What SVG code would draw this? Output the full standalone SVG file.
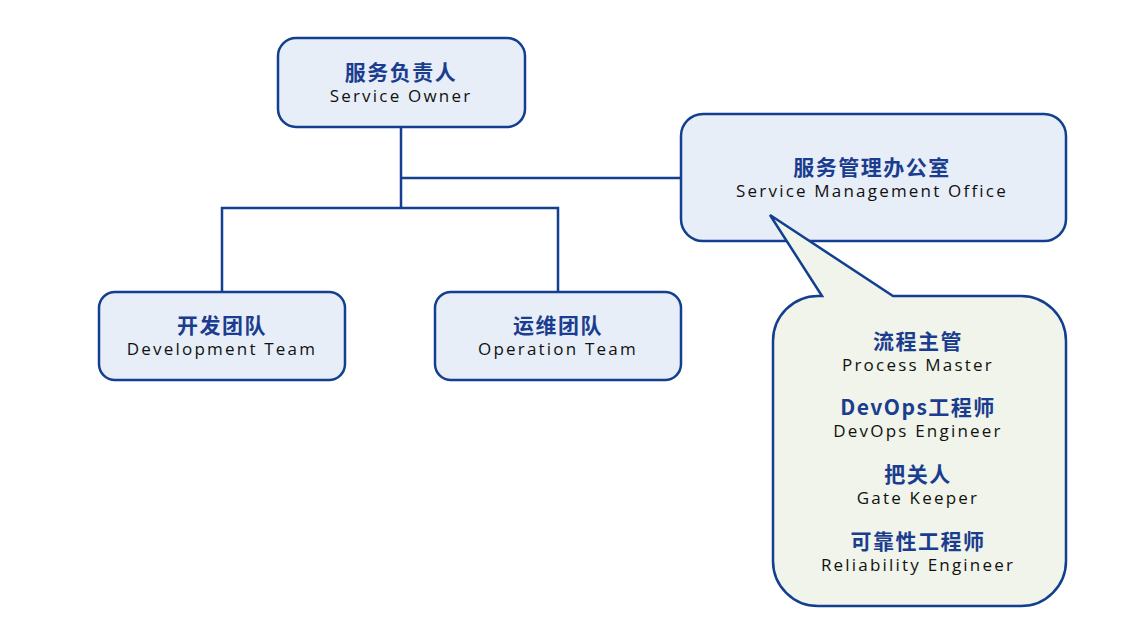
<svg xmlns="http://www.w3.org/2000/svg" width="1121" height="624" viewBox="0 0 1121 624">
<style>
.box{fill:#e8eef7;stroke:#123f8f;stroke-width:2.5}
.call{fill:#f0f4ea;stroke:#123f8f;stroke-width:2.5}
.zh{font-family:"Noto Sans CJK SC","Noto Sans",sans-serif;font-weight:bold;font-size:21px;fill:#1b3d8f;text-anchor:middle;letter-spacing:1.5px}
.en{font-family:"Open Sans","Noto Sans",sans-serif;font-size:17px;fill:#111;text-anchor:middle;letter-spacing:2.2px}
.ln{fill:none;stroke:#123f8f;stroke-width:2.5}
</style>
<rect width="1121" height="624" fill="#fff"/>
<g id="connectors">
<path class="ln" d="M401 127V208M401 178H681M222 292V208H558V292"/>
</g>
<g id="owner">
<rect class="box" x="278" y="38" width="247" height="89" rx="18"/>
<text class="zh" x="401" y="80">服务负责人</text>
<text class="en" x="401" y="102">Service Owner</text>
</g>
<g id="smo">
<rect class="box" x="681" y="114" width="385" height="127" rx="22"/>
<text class="zh" x="872" y="175">服务管理办公室</text>
<text class="en" x="872" y="197">Service Management Office</text>
</g>
<g id="dev">
<rect class="box" x="99" y="292" width="246" height="88" rx="16"/>
<text class="zh" x="222" y="333">开发团队</text>
<text class="en" x="222" y="355">Development Team</text>
</g>
<g id="ops">
<rect class="box" x="435" y="292" width="246" height="88" rx="16"/>
<text class="zh" x="558" y="333">运维团队</text>
<text class="en" x="558" y="355">Operation Team</text>
</g>
<g id="roles">
<path class="call" d="M822 296 L770 215 L893 296 H1021 A45 45 0 0 1 1066 341 V561 A45 45 0 0 1 1021 606 H818 A45 45 0 0 1 773 561 V341 A45 45 0 0 1 818 296 Z"/>
<text class="zh" x="918" y="349">流程主管</text>
<text class="en" x="918" y="371">Process Master</text>
<text class="zh" x="918" y="415">DevOps工程师</text>
<text class="en" x="918" y="437">DevOps Engineer</text>
<text class="zh" x="918" y="482">把关人</text>
<text class="en" x="918" y="504">Gate Keeper</text>
<text class="zh" x="918" y="549">可靠性工程师</text>
<text class="en" x="918" y="571">Reliability Engineer</text>
</g>
</svg>
